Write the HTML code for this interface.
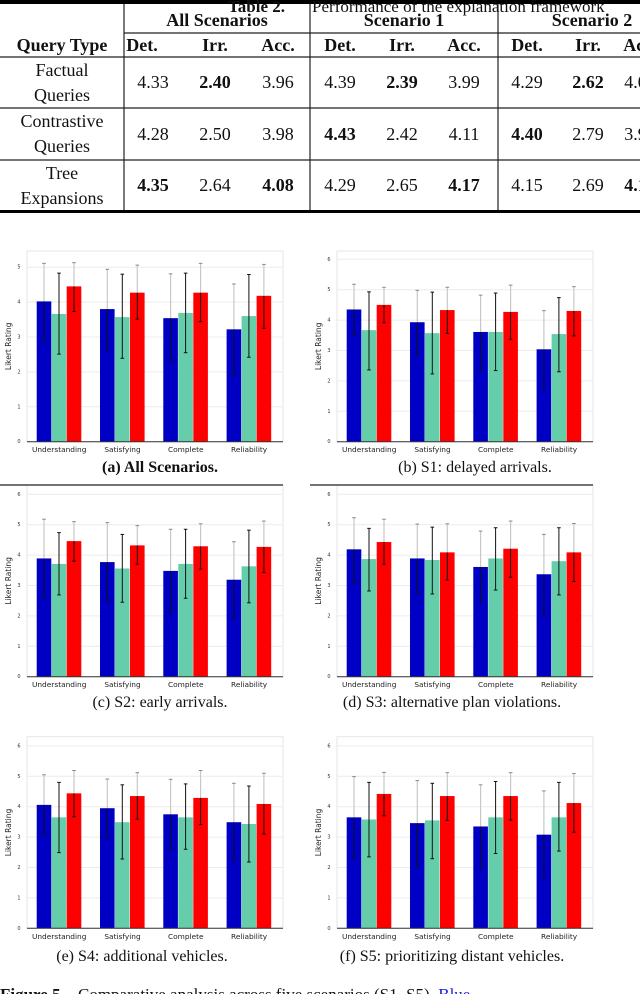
<!DOCTYPE html>
<html><head><meta charset="utf-8"><style>
html,body{margin:0;padding:0;background:#fff;overflow:hidden}
svg{display:block}
</style></head><body>
<svg id="fig" width="640" height="994" viewBox="0 0 640 994" xmlns="http://www.w3.org/2000/svg">
<g id="table" font-family="Liberation Serif, serif" font-size="18" fill="#111">
  <rect x="0" y="0" width="640" height="4" fill="#000"/>
  <text x="228" y="12" font-size="17"><tspan font-weight="bold">Table 2.</tspan><tspan x="312">Performance of the explanation framework</tspan></text>
  <line x1="124" y1="4" x2="124" y2="211" stroke="#222" stroke-width="1.2"/>
  <line x1="310" y1="4" x2="310" y2="211" stroke="#222" stroke-width="1.2"/>
  <line x1="498" y1="4" x2="498" y2="211" stroke="#222" stroke-width="1.2"/>
  <line x1="124" y1="33" x2="640" y2="33" stroke="#222" stroke-width="1.2"/>
  <line x1="0" y1="57" x2="640" y2="57" stroke="#222" stroke-width="1.2"/>
  <line x1="0" y1="108" x2="640" y2="108" stroke="#222" stroke-width="1.2"/>
  <line x1="0" y1="160" x2="640" y2="160" stroke="#222" stroke-width="1.2"/>
  <rect x="0" y="210" width="640" height="3" fill="#000"/>
  <g font-weight="bold" text-anchor="middle">
    <text x="217" y="26">All Scenarios</text>
    <text x="404" y="26">Scenario 1</text>
    <text x="592" y="26">Scenario 2</text>
    <text x="62" y="51">Query Type</text>
    <text x="142" y="51">Det.</text><text x="215" y="51">Irr.</text><text x="278" y="51">Acc.</text>
    <text x="340" y="51">Det.</text><text x="402" y="51">Irr.</text><text x="464" y="51">Acc.</text>
    <text x="527" y="51">Det.</text><text x="588" y="51">Irr.</text><text x="640" y="51">Acc.</text>
  </g>
  <g text-anchor="middle">
    <text x="62" y="76">Factual</text><text x="62" y="101">Queries</text>
    <text x="62" y="127">Contrastive</text><text x="62" y="152">Queries</text>
    <text x="62" y="179">Tree</text><text x="62" y="204">Expansions</text>
    <text x="153" y="88">4.33</text><text x="215" y="88" font-weight="bold">2.40</text><text x="278" y="88">3.96</text>
    <text x="340" y="88">4.39</text><text x="402" y="88" font-weight="bold">2.39</text><text x="464" y="88">3.99</text>
    <text x="527" y="88">4.29</text><text x="588" y="88" font-weight="bold">2.62</text><text x="640" y="88">4.00</text>
    <text x="153" y="140">4.28</text><text x="215" y="140">2.50</text><text x="278" y="140">3.98</text>
    <text x="340" y="140" font-weight="bold">4.43</text><text x="402" y="140">2.42</text><text x="464" y="140">4.11</text>
    <text x="527" y="140" font-weight="bold">4.40</text><text x="588" y="140">2.79</text><text x="640" y="140">3.90</text>
    <text x="153" y="191" font-weight="bold">4.35</text><text x="215" y="191">2.64</text><text x="278" y="191" font-weight="bold">4.08</text>
    <text x="340" y="191">4.29</text><text x="402" y="191">2.65</text><text x="464" y="191" font-weight="bold">4.17</text>
    <text x="527" y="191">4.15</text><text x="588" y="191">2.69</text><text x="640" y="191" font-weight="bold">4.10</text>
  </g>
</g>
<g id="charts"></g>
<g font-family="Liberation Serif, serif" font-size="16" fill="#111" text-anchor="middle">
  <text x="160" y="472" font-weight="bold">(a) All Scenarios.</text>
  <text x="475" y="472">(b) S1: delayed arrivals.</text>
  <text x="160" y="707">(c) S2: early arrivals.</text>
  <text x="452" y="707">(d) S3: alternative plan violations.</text>
  <text x="142" y="961">(e) S4: additional vehicles.</text>
<text x="452" y="961">(f) S5: prioritizing distant vehicles.</text>
</g>
<text x="0" y="1000" font-family="Liberation Serif, serif" font-size="17" fill="#111"><tspan font-weight="bold">Figure 5.</tspan><tspan x="78">Comparative analysis across five scenarios (S1–S5).</tspan><tspan fill="#1a1adf"> Blue</tspan></text>
</svg>
<script>
const categories = ["Understanding","Satisfying","Complete","Reliability"];
const seriesNames = ["blue","green","red"];
const chartIds = ["a","b","c","d","e","f"];
const meansA = [[4.02,3.80,3.54,3.22],[3.66,3.57,3.69,3.60],[4.45,4.27,4.27,4.18]];
const upA = [[5.11,4.94,4.81,4.52],[4.83,4.80,4.83,4.79],[5.13,5.06,5.11,5.08]];
const loA = [[2.90,2.63,2.29,1.90],[2.51,2.39,2.55,2.42],[3.73,3.51,3.44,3.25]];
const meansB = [[4.35,3.93,3.61,3.04],[3.67,3.57,3.61,3.54],[4.50,4.33,4.27,4.30]];
const upB = [[5.18,4.98,4.82,4.31],[4.93,4.92,4.89,4.74],[5.08,5.08,5.15,5.10]];
const loB = [[3.49,2.87,2.36,1.75],[2.36,2.23,2.34,2.30],[3.91,3.56,3.37,3.48]];
const meansC = [[3.89,3.77,3.48,3.19],[3.71,3.56,3.71,3.63],[4.46,4.32,4.29,4.27]];
const upC = [[5.18,5.07,4.85,4.44],[4.74,4.68,4.85,4.82],[5.10,4.97,5.03,5.12]];
const loC = [[2.58,2.47,2.12,1.92],[2.69,2.45,2.58,2.43],[3.80,3.70,3.54,3.43]];
const meansD = [[4.19,3.89,3.61,3.37],[3.87,3.84,3.89,3.80],[4.43,4.09,4.21,4.09]];
const upD = [[5.23,5.02,4.79,4.68],[4.88,4.92,4.90,4.90],[5.18,5.03,5.12,5.04]];
const loD = [[3.07,2.76,2.44,2.03],[2.82,2.72,2.85,2.69],[3.70,3.18,3.27,3.13]];
const meansE = [[4.06,3.95,3.75,3.49],[3.65,3.49,3.65,3.43],[4.44,4.35,4.29,4.09]];
const upE = [[5.05,4.91,4.90,4.77],[4.80,4.72,4.75,4.68],[5.19,5.12,5.19,5.10]];
const loE = [[3.07,2.99,2.60,2.25],[2.49,2.28,2.60,2.18],[3.67,3.59,3.41,3.10]];
const meansF = [[3.65,3.46,3.35,3.08],[3.58,3.55,3.65,3.65],[4.42,4.35,4.35,4.12]];
const upF = [[4.99,4.86,4.72,4.52],[4.80,4.77,4.83,4.80],[5.13,5.12,5.12,5.09]];
const loF = [[2.30,2.03,1.97,1.70],[2.35,2.29,2.46,2.54],[3.70,3.55,3.56,3.16]];
const ticksA = [0,1,2,3,4,5];
const ticksOther = [0,1,2,3,4,5,6];

const NS = "http://www.w3.org/2000/svg";
function mk(tag, attrs, parent){const e=document.createElementNS(NS,tag);for(const k in attrs)e.setAttribute(k,attrs[k]);parent.appendChild(e);return e;}
const colors = ["#0000c4","#66cdaa","#ff0000"];
const layout = [
 {id:"a",x:0,top:251,y0:441.7,upp:34.9,ticks:ticksA,m:meansA,u:upA,l:loA,lab:450,dark:false},
 {id:"b",x:310,top:251,y0:441.7,upp:30.4,ticks:ticksOther,m:meansB,u:upB,l:loB,lab:450,dark:false},
 {id:"c",x:0,top:485,y0:676.7,upp:30.4,ticks:ticksOther,m:meansC,u:upC,l:loC,lab:685,dark:true},
 {id:"d",x:310,top:485,y0:676.7,upp:30.4,ticks:ticksOther,m:meansD,u:upD,l:loD,lab:685,dark:true},
 {id:"e",x:0,top:736.7,y0:928.3,upp:30.4,ticks:ticksOther,m:meansE,u:upE,l:loE,lab:937,dark:false},
 {id:"f",x:310,top:736.7,y0:928.3,upp:30.4,ticks:ticksOther,m:meansF,u:upF,l:loF,lab:937,dark:false}
];
const root = document.getElementById("charts");
layout.forEach(c=>{
  const g = mk("g",{},root);
  
  
  const yS = v => c.y0 - v*c.upp;
  const L = c.x+27, R = c.x+283;
  const xG = i => c.x + 36.7 + i*63.3;
  mk("rect",{x:L,y:c.top,width:R-L,height:c.y0-c.top,fill:"none",stroke:"#e6e6e6","stroke-width":1},g);
  c.ticks.forEach(t=>{
    const y=yS(t);
    if(t>0) mk("line",{x1:L,x2:R,y1:y,y2:y,stroke:"#ececec","stroke-width":1},g);
    const tx=mk("text",{x:c.x+19,y:y+1.5,"font-size":5,"font-family":"DejaVu Sans, sans-serif",fill:"#333","text-anchor":"middle"},g);
    tx.textContent=t;
    
    
  });
  if(c.dark) mk("line",{x1:c.x,x2:R,y1:c.top,y2:c.top,stroke:"#222","stroke-width":1.3},g);
  const yl=mk("text",{x:0,y:0,transform:`translate(${c.x+11},${(c.top+c.y0)/2}) rotate(-90)`,"font-size":7.5,"font-family":"DejaVu Sans, sans-serif",fill:"#222","text-anchor":"middle"},g);
  yl.textContent="Likert Rating";
  
  
  categories.forEach((cat,i)=>{
    seriesNames.forEach((s,k)=>{
      const v=c.m[k][i];
      const bx=xG(i)+k*15;
      const r=mk("rect",{x:bx,y:yS(v),width:14.6,height:v*c.upp,fill:colors[k]},g);
      
      
      const cx=bx+7.3, yu=yS(c.u[k][i]), yl2=yS(c.l[k][i]), yt=yS(v);
      if(k===1){
        mk("line",{x1:cx,x2:cx,y1:yu,y2:yl2,stroke:"#111","stroke-width":1},g);
      } else {
        mk("line",{x1:cx,x2:cx,y1:yu,y2:yt,stroke:"#c8c8c8","stroke-width":1.2},g);
        mk("line",{x1:cx,x2:cx,y1:yt,y2:yl2,stroke:"#111","stroke-width":1},g);
      }
      mk("line",{x1:cx-1.8,x2:cx+1.8,y1:yu,y2:yu,stroke:k===1?"#111":"#888","stroke-width":1},g);
      mk("line",{x1:cx-1.8,x2:cx+1.8,y1:yl2,y2:yl2,stroke:"#111","stroke-width":1},g);
    });
    const t=mk("text",{x:xG(i)+22.5,y:c.lab+2,"font-size":7.4,"font-family":"DejaVu Sans, sans-serif",fill:"#222","text-anchor":"middle"},g);
    t.textContent=cat;
    
    
  });
  mk("line",{x1:L,x2:R,y1:c.y0,y2:c.y0,stroke:"#333","stroke-width":1},g);
});
</script>
</body></html>
